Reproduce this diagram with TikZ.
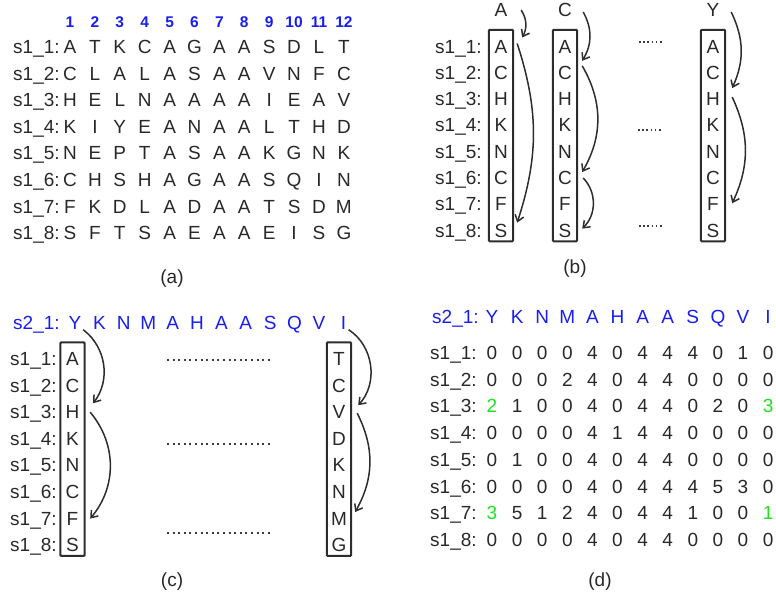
\documentclass[tikz,border=0pt]{standalone}
\usepackage{fontspec}
\setmainfont{Liberation Sans}
\usepackage{tikz}
\usetikzlibrary{arrows.meta, positioning, fit, calc}
\usepackage{xcolor}
\definecolor{TextGray}{RGB}{40,40,40}
\definecolor{SeqBlue}{RGB}{25,30,240}
\definecolor{HitGreen}{RGB}{30,225,30}
\definecolor{BoxGray}{RGB}{45,45,45}
\definecolor{DotGray}{RGB}{60,60,60}
\newcommand{\best}{\color{HitGreen}}

\begin{document}
\begin{tikzpicture}[
            x=1pt, y=-1pt,
            font=\fontsize{19}{22}\selectfont,
            txt/.style={inner sep=0pt, text height=13pt, text depth=0pt, text=TextGray},
            cell/.style={txt, minimum width=16pt},
            lbl/.style={txt, anchor=west},
            seq/.style={cell, text=SeqBlue},
            num/.style={txt, text=SeqBlue, font=\fontsize{15.5}{18}\selectfont\bfseries},
            colbox/.style={draw=BoxGray, line width=2pt, rounded corners=1pt, inner xsep=4pt, inner ysep=7pt, yshift=3pt},
            arrow/.style={-{Straight Barb[length=6pt, width=9pt]}, line width=1.5pt, draw=BoxGray},
            gap/.style={draw=DotGray, line width=2pt, dash pattern=on 2pt off 3.6pt},
            gapshort/.style={draw=DotGray, line width=1.6pt, dash pattern=on 1.6pt off 2.6pt}
        ]
            \useasboundingbox (0,0) rectangle (776,597);

            % (a)
            \foreach \i in {1,...,12}
                \node[num] (n\i) at ({70+24.9*(\i-1)}, 21) {\i};
            \foreach \row [count=\j] in {{A,T,K,C,A,G,A,A,S,D,L,T}, {C,L,A,L,A,S,A,A,V,N,F,C},
                    {H,E,L,N,A,A,A,A,I,E,A,V}, {K,I,Y,E,A,N,A,A,L,T,H,D}, {N,E,P,T,A,S,A,A,K,G,N,K},
                    {C,H,S,H,A,G,A,A,S,Q,I,N}, {F,K,D,L,A,D,A,A,T,S,D,M}, {S,F,T,S,A,E,A,A,E,I,S,G}} {
                \node[lbl] (al\j) at (13, {47+26.6*(\j-1)}) {s1\_\j:};
                \foreach \ch [count=\i] in \row
                    \node[cell] (a\j-\i) at ({70+24.9*(\i-1)}, {47+26.6*(\j-1)}) {\ch};
            }
            \node[txt] (capa) at (172, 277) {(a)};

            % (b)
            \node[cell] (hb1) at (501, 10) {A};
            \node[cell] (hb2) at (565, 10) {C};
            \node[cell] (hb3) at (713, 10) {Y};
            \foreach \ch [count=\j] in {A,C,H,K,N,C,F,S} {
                \node[lbl] (bl\j) at (435, {46.5+26.3*(\j-1)}) {s1\_\j:};
                \foreach \x [count=\k] in {501,565,713}
                    \node[cell] (b\k-\j) at (\x, {46.5+26.3*(\j-1)}) {\ch};
            }
            \node[colbox, fit=(b1-1)(b1-8)] (boxb1) {};
            \node[colbox, fit=(b2-1)(b2-8)] (boxb2) {};
            \node[colbox, fit=(b3-1)(b3-8)] (boxb3) {};
            \draw[gapshort] (639, 42) -- (664, 42);
            \draw[gapshort] (638, 130) -- (663, 130);
            \draw[gapshort] (639, 226) -- (664, 226);
            \node[txt] (capb) at (575, 267) {(b)};

            \draw[arrow] ([xshift=12pt]hb1.east) to[bend left=30] ([shift={(13,-9)}]b1-1.east);
            \draw[arrow] ([shift={(8,-3)}]b1-1.east) to[bend left=18] ([shift={(8,-8)}]b1-8.east);
            \draw[arrow] ([shift={(10,2)}]hb2.east) to[bend left=30] ([shift={(9,-12)}]b2-2.east);
            \draw[arrow] ([shift={(9,-7)}]b2-2.east) to[bend left=30] ([shift={(9,-6)}]b2-6.east);
            \draw[arrow] ([xshift=10pt]b2-6.east) to[bend left=45] ([shift={(9,-2)}]b2-8.east);
            \draw[arrow] ([shift={(10,2)}]hb3.east) to[bend left=25] ([shift={(11,-11)}]b3-3.east);
            \draw[arrow] ([shift={(11,-2)}]b3-3.east) to[bend left=25] ([shift={(11,-1)}]b3-7.east);

            % (c)
            \node[lbl, text=SeqBlue] (hcl) at (13, 323) {s2\_1:};
            \foreach \ch [count=\i] in {Y,K,N,M,A,H,A,A,S,Q,V,I}
                \node[seq] (hc\i) at ({75+24.4*(\i-1)}, 323) {\ch};
            \foreach \ch [count=\j] in {A,C,H,K,N,C,F,S} {
                \node[lbl] (cl\j) at (10, {359+26.6*(\j-1)}) {s1\_\j:};
                \node[cell] (c1-\j) at (72.5, {359+26.6*(\j-1)}) {\ch};
            }
            \foreach \ch [count=\j] in {T,C,V,D,K,N,M,G}
                \node[cell] (c2-\j) at (339, {359+26.6*(\j-1)}) {\ch};
            \node[colbox, fit=(c1-1)(c1-8)] (boxc1) {};
            \node[colbox, fit=(c2-1)(c2-8)] (boxc2) {};
            \draw[gap] (167, 360) -- (273, 360);
            \draw[gap] (167, 444) -- (273, 444);
            \draw[gap] (167, 533) -- (273, 533);
            \node[txt] (capc) at (172, 580) {(c)};

            \draw[arrow] (hc1.south east) to[bend left=45] ([shift={(12.5,-9)}]c1-3.east);
            \draw[arrow] ([xshift=9.5pt]c1-3.east) to[bend left=40] ([xshift=9.5pt]c1-7.east);
            \draw[arrow] ([xshift=-3pt]hc12.south east) to[bend left=50] ([shift={(11,-7)}]c2-3.east);
            \draw[arrow] ([shift={(10,1)}]c2-3.east) to[bend left=28] ([shift={(8,-6.6)}]c2-7.east);

            % (d)
            \node[lbl, text=SeqBlue] (hdl) at (432, 317) {s2\_1:};
            \foreach \ch [count=\i] in {Y,K,N,M,A,H,A,A,S,Q,V,I}
                \node[seq] (hd\i) at ({492+25.1*(\i-1)}, 317) {\ch};
            \foreach \row [count=\j] in {{0,0,0,0,4,0,4,4,4,0,1,0}, {0,0,0,2,4,0,4,4,0,0,0,0},
                    {{\best 2},1,0,0,4,0,4,4,0,2,0,{\best 3}}, {0,0,0,0,4,1,4,4,0,0,0,0},
                    {0,1,0,0,4,0,4,4,0,0,0,0}, {0,0,0,0,4,0,4,4,4,5,3,0},
                    {{\best 3},5,1,2,4,0,4,4,1,0,0,{\best 1}}, {0,0,0,0,4,0,4,4,0,0,0,0}} {
                \node[lbl] (dl\j) at (430, {353+26.7*(\j-1)}) {s1\_\j:};
                \foreach \v [count=\i] in \row
                    \node[cell] (d\j-\i) at ({492+25.1*(\i-1)}, {353+26.7*(\j-1)}) {\v};
            }
            \node[txt] (capd) at (600, 580) {(d)};
        \end{tikzpicture}
\end{document}
